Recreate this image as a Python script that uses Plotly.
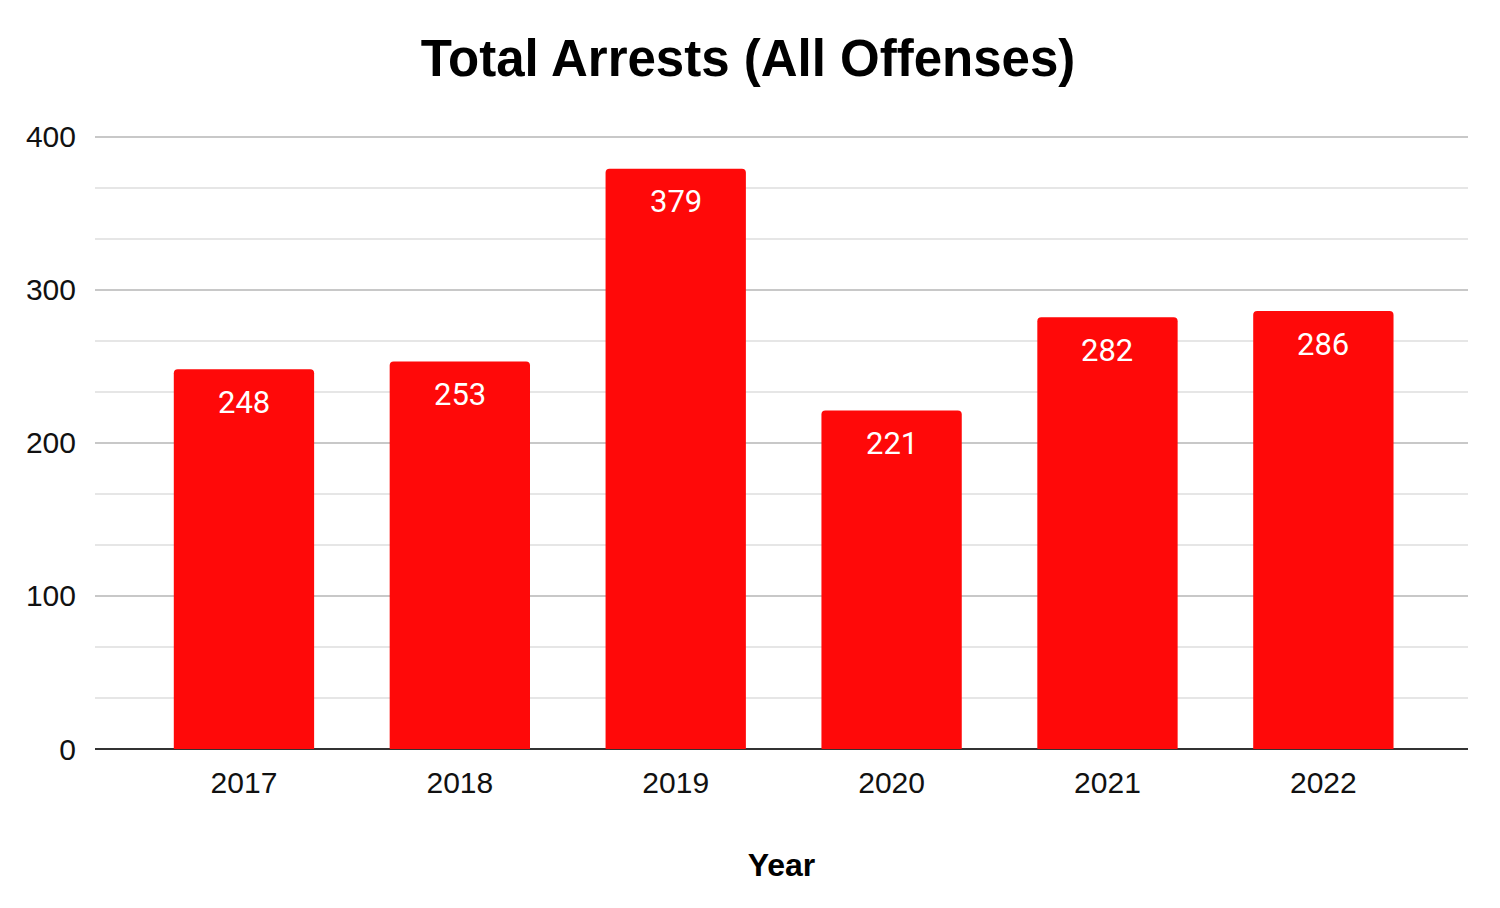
import plotly.graph_objects as go

years = ["2017", "2018", "2019", "2020", "2021", "2022"]
arrests = [248, 253, 379, 221, 282, 286]
y_ticks = [0, 100, 200, 300, 400]

bar_color = "#FF0909"

fig = go.Figure()
fig.add_trace(go.Bar(
    x=list(range(len(years))),
    y=arrests,
    width=0.65,
    marker=dict(color=bar_color, cornerradius=4, line=dict(width=0)),
    hoverinfo="x+y",
))

for i, v in enumerate(arrests):
    fig.add_annotation(
        x=i, y=v, text=str(v), showarrow=False,
        yshift=-33, yanchor="middle",
        font=dict(family="Roboto", size=31, color="white"),
    )

fig.update_layout(
    width=1500, height=908,
    margin=dict(l=87, r=40, t=127, b=167),
    paper_bgcolor="white", plot_bgcolor="white",
    showlegend=False,
    title=dict(
        text="<b>Total Arrests (All Offenses)</b>",
        x=(748 - 8) / 1500, xanchor="center", y=1 - 50 / 908, yanchor="middle",
        font=dict(family="Liberation Sans, Arial", size=51, color="black"),
    ),
    xaxis=dict(
        tickmode="array",
        tickvals=list(range(len(years))),
        ticktext=years,
        range=[-0.69, 5.67],
        showgrid=False, zeroline=False, showline=False,
        ticks="", ticklabelstandoff=13,
        tickfont=dict(family="Liberation Sans, Arial", size=30, color="#111"),
        title=dict(text="<b>Year</b>", standoff=55,
                   font=dict(family="Liberation Sans, Arial", size=32, color="black")),
    ),
    yaxis=dict(
        range=[0, 401],
        tickmode="array", tickvals=y_ticks,
        showgrid=True, gridcolor="#c8c8c8", gridwidth=2,
        minor=dict(dtick=100 / 3, showgrid=True, gridcolor="#e6e6e6", gridwidth=2, tick0=0),
        zeroline=True, zerolinecolor="#333333", zerolinewidth=2,
        showline=False, ticks="", ticklabelstandoff=18,
        tickfont=dict(family="Liberation Sans, Arial", size=30, color="#111"),
    ),
)

fig.write_html("out.html")
